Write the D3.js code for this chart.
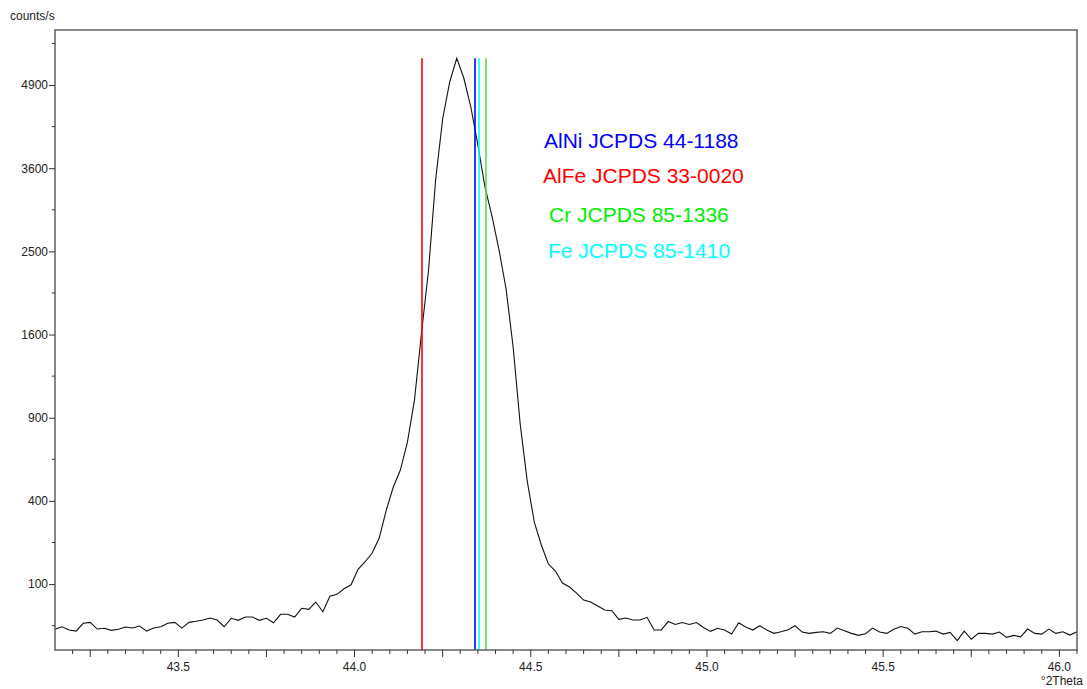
<!DOCTYPE html>
<html>
<head>
<meta charset="utf-8">
<script src="https://cdn.jsdelivr.net/npm/d3@7"></script>
<style>
  body { margin: 0; background: #fff; }
  svg { display: block; font-family: "Liberation Sans", Arial, sans-serif; }
  .tick-label { font-size: 12px; fill: #222; }
</style>
</head>
<body>
<svg id="chart" width="1087" height="689"></svg>
<script>
'use strict';

// scan parameters (degrees 2theta)
var scanStart = 43.15
,   scanStep = 0.02

// measured intensity, counts/s, one value per step
var counts = [
  20.8, 23.7, 20.0, 18.9, 27.9, 29.1, 21.1, 21.9, 19.7, 20.8,
  23.4, 22.2, 24.5, 18.9, 22.2, 23.7, 27.9, 29.1, 22.2, 29.1,
  30.5, 32.2, 35.0, 32.2, 23.7, 34.6, 31.8, 36.4, 36.4, 31.8,
  34.6, 28.6, 40.5, 40.5, 36.4, 50.2, 48.5, 61.5, 44.5, 72.7,
  76.8, 89.1, 98.4, 138.6, 160.9, 188.5, 241.3, 357.2, 469.4, 562.2,
  733.2, 1032, 1615, 2281, 3432, 4345, 4951, 5360, 5019, 4537,
  3942, 3334, 2943, 2516, 2068, 1482, 855, 501, 304.8, 215.9,
  154, 133.8, 102.5, 93, 79.6, 65.3, 61.5, 54.1, 47.3, 46.1,
  33.2, 35.0, 32.2, 32.2, 36.0, 20.0, 20.0, 30.2, 26.4, 28.9,
  26.4, 28.9, 22.8, 18.6, 21.9, 20.0, 15.9, 28.6, 23.4, 20.0,
  24.9, 20.0, 16.6, 18.2, 20.3, 24.9, 17.9, 16.6, 17.6, 18.2,
  16.6, 22.2, 19.3, 16.6, 14.7, 16.2, 22.2, 17.9, 16.6, 20.8,
  23.9, 21.9, 15.9, 18.2, 18.2, 18.9, 15.9, 17.6, 10.2, 18.9,
  11.3, 16.6, 16.6, 15.9, 17.9, 12.9, 14.7, 13.4, 21.1, 16.6,
  15.9, 21.1, 16.6, 18.2, 15.0, 18.2
]

// reference patterns (stick positions, 2theta)
var refNames = ['AlNi JCPDS 44-1188', 'AlFe JCPDS 33-0020', 'Cr JCPDS 85-1336', 'Fe JCPDS 85-1410']
,   refPeaks = [44.342, 44.19, 44.374, 44.354]
,   refTextColors = ['#0000ff', '#ff0000', '#00ee00', '#00ffff']
,   refLineColors = ['#0000ff', '#ff0000', '#55dd55', '#00ffff']

// axis ticks
var yMajorTicks = [100, 400, 900, 1600, 2500, 3600, 4900]
,   yMinorTicks = [25, 225, 625, 1225, 2025, 3025, 4225, 5625]
,   xLabelTicks = [43.5, 44.0, 44.5, 45.0, 45.5, 46.0]

var margin = { left: 55, right: 10, top: 30, bottom: 39 }
,   width = 1087
,   height = 689
,   svg = d3.select('#chart')

var x = d3.scaleLinear().domain([43.15, 46.05]).range([margin.left, width - margin.right])
,   y = d3.scaleSqrt().domain([4.3, 5870]).range([height - margin.bottom, margin.top])

var points = counts.map((c, i) => ({ angle: scanStart + scanStep * i, count: c }))

// x ticks: every 0.05, longer every 0.25
var xMinor = d3.range(864, 922).map((k) => k / 20)
,   xMajor = xMinor.filter((v) => Math.abs(v * 4 - Math.round(v * 4)) < 1e-6)

var plot = svg.append('g').attr('class', 'plot')

plot.append('path')
  .datum(points)
  .attr('fill', 'none')
  .attr('stroke', '#111')
  .attr('stroke-width', 1.1)
  .attr('d', d3.line().x((d) => x(d.angle)).y((d) => y(d.count)))

// reference sticks, scaled to the peak maximum
var peakMax = d3.max(counts)

plot.selectAll('.ref-stick')
  .data(refPeaks)
  .enter().append('line')
  .attr('class', 'ref-stick')
  .attr('x1', (d) => Math.round(x(d)))
  .attr('x2', (d) => Math.round(x(d)))
  .attr('y1', y.range()[0])
  .attr('y2', y(peakMax))
  .attr('stroke', (d, i) => refLineColors[i])
  .attr('stroke-width', 1.6)

// frame
svg.append('rect')
  .attr('x', margin.left)
  .attr('y', margin.top)
  .attr('width', width - margin.left - margin.right)
  .attr('height', height - margin.top - margin.bottom)
  .attr('fill', 'none')
  .attr('stroke', '#555')
  .attr('stroke-width', 1.4)

// y axis
var yAxis = svg.append('g').attr('transform', 'translate(' + margin.left + ',0)')

yAxis.call(d3.axisLeft(y).tickValues(yMajorTicks).tickSize(6).tickPadding(1).tickFormat(d3.format('d')))
yAxis.select('.domain').remove()
yAxis.selectAll('.tick line').attr('stroke', '#333')
yAxis.selectAll('.tick text').attr('class', 'tick-label').attr('font-size', null).attr('font-family', null)

yAxis.selectAll('.y-minor')
  .data(yMinorTicks)
  .enter().append('line')
  .attr('class', 'y-minor')
  .attr('x1', -3).attr('x2', 0)
  .attr('y1', (d) => y(d)).attr('y2', (d) => y(d))
  .attr('stroke', '#333')

// x axis
var xAxisY = height - margin.bottom
,   xAxis = svg.append('g').attr('transform', 'translate(0,' + xAxisY + ')')

xAxis.selectAll('.x-minor')
  .data(xMinor)
  .enter().append('line')
  .attr('class', 'x-minor')
  .attr('x1', (d) => x(d)).attr('x2', (d) => x(d))
  .attr('y1', 0).attr('y2', (d) => xMajor.indexOf(d) >= 0 ? 7 : 4)
  .attr('stroke', '#333')

xAxis.selectAll('.x-label')
  .data(xLabelTicks)
  .enter().append('text')
  .attr('class', 'tick-label')
  .attr('x', (d) => x(d))
  .attr('y', 21)
  .attr('text-anchor', 'middle')
  .text((d) => d.toFixed(1))

// axis titles
svg.append('text')
  .attr('class', 'tick-label')
  .attr('x', 10)
  .attr('y', 20)
  .text('counts/s')

svg.append('text')
  .attr('class', 'tick-label')
  .attr('x', 1083)
  .attr('y', 685)
  .attr('text-anchor', 'end')
  .text('°2Theta')

// legend
var legendPos = [[544, 148], [543, 183], [549, 222], [548, 258]]

svg.selectAll('.ref-label')
  .data(refNames)
  .enter().append('text')
  .attr('class', 'ref-label')
  .attr('x', (d, i) => legendPos[i][0])
  .attr('y', (d, i) => legendPos[i][1])
  .attr('font-size', 21)
  .attr('fill', (d, i) => refTextColors[i])
  .text((d) => d)
</script>
</body>
</html>
